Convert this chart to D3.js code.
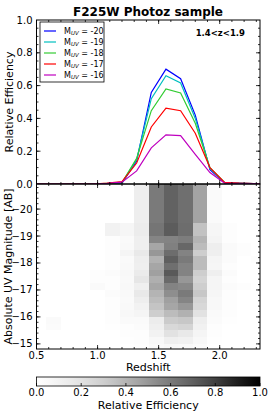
<!DOCTYPE html>
<html>
<head>
<meta charset="utf-8">
<script src="https://cdn.jsdelivr.net/npm/d3@7"></script>
<style>
  body { margin: 0; background: #fff; }
  text { font-family: "DejaVu Sans", sans-serif; fill: #000; }
</style>
</head>
<body>
<script>
// redshift grid of the efficiency curves
var lineZ = [0.48, 0.60, 0.72, 0.84, 0.96, 1.08, 1.20, 1.32, 1.44, 1.56, 1.68, 1.80, 1.92, 2.04, 2.16, 2.28, 2.40];
var magLabels = ["-20", "-19", "-18", "-17", "-16"];
var lineColors = ["#0000ff", "#00bfbf", "#33cc33", "#ff0000", "#bf00bf"];
var effM20 = [0, 0, 0, 0, 0, 0.002, 0.005, 0.14, 0.558, 0.70, 0.642, 0.42, 0.087, 0.006, 0.004, 0.002, 0];
var effM19 = [0, 0, 0, 0, 0, 0.003, 0.007, 0.15, 0.52, 0.66, 0.616, 0.40, 0.095, 0.008, 0.004, 0.002, 0];
var effM18 = [0, 0, 0, 0, 0, 0.004, 0.009, 0.156, 0.447, 0.58, 0.555, 0.37, 0.10, 0.009, 0.005, 0.002, 0];
var effM17 = [0, 0, 0, 0, 0, 0.005, 0.014, 0.128, 0.348, 0.463, 0.447, 0.31, 0.10, 0.01, 0.005, 0.002, 0];
var effM16 = [0, 0, 0, 0, 0, 0.004, 0.011, 0.08, 0.22, 0.30, 0.295, 0.18, 0.07, 0.005, 0.004, 0.002, 0];

// heat map: left edges of redshift bins (width 0.12) and top edges of magnitude bins (0.25 mag)
var heatZ = [0.46, 0.58, 0.70, 0.82, 0.94, 1.06, 1.18, 1.30, 1.42, 1.54, 1.66, 1.78, 1.90, 2.02, 2.14, 2.26];
var heatM = [-21.0, -20.75, -20.5, -20.25, -20.0, -19.75, -19.5, -19.25, -19.0, -18.75, -18.5, -18.25, -18.0,
             -17.75, -17.5, -17.25, -17.0, -16.75, -16.5, -16.25, -16.0, -15.75, -15.5, -15.25, -15.0];
var heatEff = [
  [0, 0, 0, 0, 0, 0, 0, .13, .60, .69, .64, .46, .04, 0, 0, 0],
  [0, 0, 0, 0, 0, 0, 0, .13, .60, .69, .64, .46, .04, 0, 0, 0],
  [0, 0, 0, 0, 0, 0, 0, .13, .60, .69, .64, .46, .04, 0, 0, 0],
  [0, 0, 0, 0, 0, 0, 0, .13, .60, .69, .64, .46, .04, 0, 0, 0],
  [0, 0, 0, 0, 0, 0, 0, .13, .60, .69, .64, .46, .04, 0, 0, 0],
  [0, 0, 0, 0, 0, 0, 0, .13, .60, .69, .64, .46, .04, 0, 0, 0],
  [0, 0, 0, 0, 0, .10, .07, .14, .62, .71, .65, .35, .07, .02, 0, 0],
  [0, 0, 0, 0, 0, .10, .07, .14, .62, .71, .65, .35, .07, .02, 0, 0],
  [0, 0, 0, 0, 0, .02, .04, .12, .56, .57, .59, .40, .09, .02, 0, 0],
  [0, 0, 0, 0, 0, .02, .05, .12, .45, .58, .67, .37, .13, .04, .02, 0],
  [0, 0, 0, 0, 0, .02, .08, .16, .50, .65, .57, .30, .12, .03, .02, 0],
  [0, 0, 0, 0, 0, .02, .04, .13, .41, .70, .60, .37, .08, .03, 0, .02],
  [0, 0, 0, 0, 0, .02, .05, .12, .45, .64, .57, .37, .07, .02, 0, 0],
  [0, 0, 0, 0, .02, .03, .06, .15, .47, .72, .57, .30, .12, .03, 0, 0],
  [0, 0, 0, 0, .02, .02, .05, .18, .42, .66, .50, .27, .08, .02, 0, 0],
  [0, 0, 0, 0, .04, .02, .06, .12, .45, .57, .55, .30, .08, .03, .02, 0],
  [0, 0, 0, 0, 0, .03, .05, .16, .40, .53, .60, .33, .07, .02, 0, 0],
  [0, 0, 0, 0, 0, .02, .04, .13, .37, .47, .56, .27, .06, .02, 0, 0],
  [0, 0, 0, 0, 0, .02, .05, .10, .34, .45, .50, .25, .06, .02, 0, 0],
  [0, 0, 0, 0, 0, .02, .06, .08, .30, .37, .41, .20, .04, .02, 0, 0],
  [0, .04, 0, 0, 0, .02, .04, .04, .14, .31, .33, .13, .03, .01, 0, 0],
  [0, .03, 0, 0, 0, .01, .02, .03, .12, .25, .27, .11, .02, 0, 0, 0],
  [0, 0, 0, 0, 0, 0, .02, .02, .10, .20, .16, .08, .02, 0, 0, 0],
  [0, 0, 0, 0, 0, 0, .01, .02, .06, .12, .11, .06, .01, 0, 0, 0],
  [0, 0, 0, 0, 0, 0, 0, .01, .04, .06, .05, .03, 0, 0, 0, 0]
];
var zTicks = [0.5, 1.0, 1.5, 2.0];
var effTicks = [0.0, 0.2, 0.4, 0.6, 0.8, 1.0];
var magTicks = [-20, -19, -18, -17, -16, -15];
var cbTicks = [0.0, 0.2, 0.4, 0.6, 0.8, 1.0];

var W = 274, H = 411;
var left = 36.5, right = 260, top1 = 20, mid = 184, bot = 349;

var svg = d3.select("body").append("svg")
    .attr("width", W)
    .attr("height", H);

var x = d3.scaleLinear().domain([0.5, 2.33]).range([left, right]);
var yEff = d3.scaleLinear().domain([0, 1]).range([mid, top1]);
var yMag = d3.scaleLinear().domain([-20.93, -14.81]).range([mid, bot]);
var grey = d3.interpolateGreys;

svg.append("clipPath").attr("id", "clipTop")
  .append("rect").attr("x", left).attr("y", top1).attr("width", right - left).attr("height", mid - top1);
svg.append("clipPath").attr("id", "clipBot")
  .append("rect").attr("x", left).attr("y", mid).attr("width", right - left).attr("height", bot - mid);

// heat map
var cells = [];
heatEff.forEach(function(row, i) {
  row.forEach(function(v, j) { cells.push({m: heatM[i], z: heatZ[j], v: v}); });
});
svg.append("g").attr("clip-path", "url(#clipBot)")
  .selectAll("rect").data(cells).enter().append("rect")
    .attr("x", function(d) { return x(d.z); })
    .attr("y", function(d) { return yMag(d.m); })
    .attr("width", function(d) { return x(d.z + 0.12) - x(d.z); })
    .attr("height", function(d) { return yMag(d.m + 0.25) - yMag(d.m); })
    .attr("fill", function(d) { return grey(d.v); })
    .attr("shape-rendering", "crispEdges");

// efficiency curves
var series = [effM20, effM19, effM18, effM17, effM16];
var line = d3.line()
    .x(function(d, i) { return x(lineZ[i]); })
    .y(function(d) { return yEff(d); });
svg.append("g").attr("clip-path", "url(#clipTop)")
  .selectAll("path").data(series).enter().append("path")
    .attr("d", line)
    .attr("fill", "none")
    .attr("stroke", function(d, i) { return lineColors[i]; })
    .attr("stroke-width", 1.2)
    .attr("stroke-linejoin", "miter");

// inward ticks on all four sides of a panel
function ticks(y0, y1, xs, xsMinor, ys, ysMinor, yScale) {
  var g = svg.append("g").attr("stroke", "#000").attr("stroke-width", 0.8);
  function tx(vals, len) {
    vals.forEach(function(v) {
      var px = x(v);
      if (px < left + 0.5 || px > right - 0.5) return;
      g.append("line").attr("x1", px).attr("x2", px).attr("y1", y1).attr("y2", y1 - len);
      g.append("line").attr("x1", px).attr("x2", px).attr("y1", y0).attr("y2", y0 + len);
    });
  }
  function ty(vals, len) {
    vals.forEach(function(v) {
      var py = yScale(v);
      if (py < y0 + 0.5 || py > y1 - 0.5) return;
      g.append("line").attr("x1", left).attr("x2", left + len).attr("y1", py).attr("y2", py);
      g.append("line").attr("x1", right).attr("x2", right - len).attr("y1", py).attr("y2", py);
    });
  }
  tx(xs, 4); tx(xsMinor, 2); ty(ys, 4); ty(ysMinor, 2);
  svg.append("rect").attr("x", left).attr("y", y0).attr("width", right - left).attr("height", y1 - y0)
    .attr("fill", "none").attr("stroke", "#000").attr("stroke-width", 1);
}
var zMinor = d3.range(0.6, 2.35, 0.1);
ticks(top1, mid, zTicks, zMinor, effTicks, d3.range(0.05, 1, 0.05), yEff);
ticks(mid, bot, zTicks, zMinor, magTicks, d3.range(-20.8, -14.8, 0.2), yMag);

// tick labels
svg.append("g").selectAll("text").data(effTicks).enter().append("text")
    .attr("x", left - 4).attr("y", function(d) { return yEff(d) + 3.5; })
    .attr("text-anchor", "end").attr("font-size", 10)
    .text(function(d) { return d.toFixed(1); });
svg.append("g").selectAll("text").data(magTicks).enter().append("text")
    .attr("x", left - 4).attr("y", function(d) { return yMag(d) + 3.5; })
    .attr("text-anchor", "end").attr("font-size", 10)
    .text(function(d) { return "\u2212" + Math.abs(d); });
svg.append("g").selectAll("text").data(zTicks).enter().append("text")
    .attr("x", function(d) { return x(d); }).attr("y", bot + 9.5)
    .attr("text-anchor", "middle").attr("font-size", 10)
    .text(function(d) { return d.toFixed(1); });

// titles and axis labels
svg.append("text").attr("x", 148).attr("y", 16).attr("text-anchor", "middle")
    .attr("font-size", 12).attr("font-weight", "bold").text("F225W Photoz sample");
svg.append("text").attr("x", 245).attr("y", 36).attr("text-anchor", "end")
    .attr("font-size", 8.5).attr("font-weight", "bold").text("1.4<z<1.9");
svg.append("text").attr("transform", "translate(13," + ((top1 + mid) / 2) + ") rotate(-90)")
    .attr("text-anchor", "middle").attr("font-size", 11).text("Relative Efficiency");
svg.append("text").attr("transform", "translate(12," + ((mid + bot) / 2) + ") rotate(-90)")
    .attr("text-anchor", "middle").attr("font-size", 11).text("Absolute UV Magnitude [AB]");
svg.append("text").attr("x", (left + right) / 2).attr("y", 371).attr("text-anchor", "middle")
    .attr("font-size", 11).text("Redshift");

// legend
var leg = svg.append("g");
leg.append("rect").attr("x", 40).attr("y", 22).attr("width", 64).attr("height", 60)
    .attr("fill", "#fff").attr("stroke", "#000").attr("stroke-width", 0.8);
magLabels.forEach(function(m, i) {
  var ly = 31 + i * 11;
  leg.append("line").attr("x1", 44).attr("x2", 56).attr("y1", ly).attr("y2", ly)
    .attr("stroke", lineColors[i]).attr("stroke-width", 1.2);
  var t = leg.append("text").attr("x", 64).attr("y", ly + 2.8).attr("font-size", 8);
  t.append("tspan").text("M");
  t.append("tspan").attr("font-size", 5.5).attr("font-style", "italic").attr("dy", 1.5).text("UV");
  t.append("tspan").attr("dy", -1.5).text(" = " + m);
});

// colour bar
var cbTop = 377, cbH = 9;
var cbx = d3.scaleLinear().domain([0, 1]).range([left, right]);
var grad = svg.append("defs").append("linearGradient").attr("id", "cbGrad");
grad.selectAll("stop").data(d3.range(0, 1.0001, 0.05)).enter().append("stop")
    .attr("offset", function(d) { return d; })
    .attr("stop-color", function(d) { return grey(d); });
svg.append("rect").attr("x", left).attr("y", cbTop).attr("width", right - left).attr("height", cbH)
    .attr("fill", "url(#cbGrad)").attr("stroke", "#000").attr("stroke-width", 0.8);
svg.append("g").selectAll("line").data(cbTicks).enter().append("line")
    .attr("x1", function(d) { return cbx(d); }).attr("x2", function(d) { return cbx(d); })
    .attr("y1", cbTop + cbH).attr("y2", cbTop + cbH - 3)
    .attr("stroke", "#000").attr("stroke-width", 0.8);
svg.append("g").selectAll("text").data(cbTicks).enter().append("text")
    .attr("x", function(d) { return cbx(d); }).attr("y", cbTop + cbH + 10)
    .attr("text-anchor", "middle").attr("font-size", 10)
    .text(function(d) { return d.toFixed(1); });
svg.append("text").attr("x", (left + right) / 2).attr("y", 409).attr("text-anchor", "middle")
    .attr("font-size", 11).text("Relative Efficiency");
</script>
</body>
</html>
